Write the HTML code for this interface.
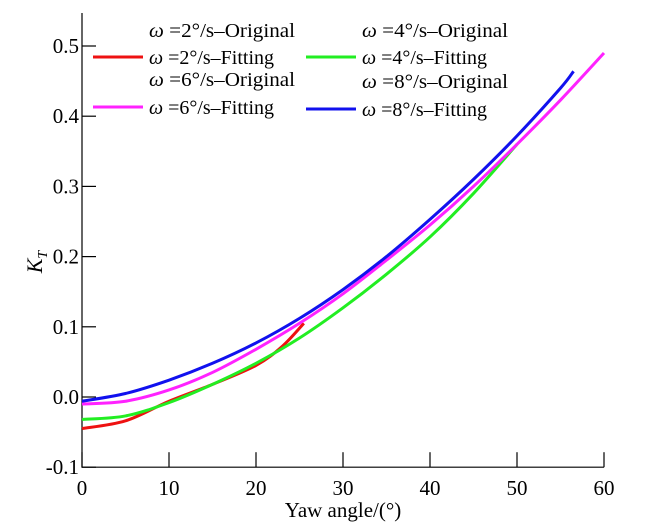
<!DOCTYPE html>
<html><head><meta charset="utf-8"><style>
body{margin:0;background:#fff;}
svg{display:block;font-family:"Liberation Serif",serif;}
</style></head><body>
<svg id="c" width="648" height="524"></svg>
<script>
const angles=[0,5,10,15,20,25,30,35,40,45,50,55,60];
const redX=[0,5,10,15,20,23,25.5];
const red=[-0.045,-0.034,-0.006,0.018,0.045,0.072,0.105];
const greenX=[0,5,10,15,20,25,30,35,40,45,50];
const green=[-0.032,-0.027,-0.008,0.018,0.048,0.084,0.127,0.175,0.228,0.29,0.36];
const magenta=[-0.01,-0.006,0.01,0.035,0.068,0.105,0.147,0.195,0.245,0.3,0.36,0.423,0.49];
const blueX=[0,5,10,15,20,25,30,35,40,45,50,55,56.5];
const blue=[-0.006,0.005,0.024,0.048,0.077,0.112,0.153,0.2,0.253,0.31,0.372,0.44,0.464];
const xTicks=[0,10,20,30,40,50,60];
const yTicks=[-0.1,0.0,0.1,0.2,0.3,0.4,0.5];
const NS="http://www.w3.org/2000/svg";
const svg=document.getElementById('c');
const X=v=>82+v*(604-82)/60;
const Y=v=>397-v*702;
function mk(t,a,p){const e=document.createElementNS(NS,t);for(const k in a)e.setAttribute(k,a[k]);(p||svg).appendChild(e);return e;}
let ax=mk('path',{d:`M${X(0)},13 V${Y(-0.1)} H${X(60)}`,fill:'none',stroke:'#000','stroke-width':1.2});


xTicks.forEach(t=>{
 const l=mk('line',{x1:X(t),x2:X(t),y1:Y(-0.1),y2:Y(-0.1)-15,stroke:'#000','stroke-width':1.2});
 
 
 const tx=mk('text',{x:X(t),y:495,'font-size':21,'text-anchor':'middle'});tx.textContent=t;
 
 
});
yTicks.forEach(t=>{
 const l=mk('line',{x1:X(0),x2:X(0)+14,y1:Y(t),y2:Y(t),stroke:'#000','stroke-width':1.2});
 
 
 const tx=mk('text',{x:X(0)-3,y:Y(t)+7,'font-size':21,'text-anchor':'end'});tx.textContent=t.toFixed(1);
 
 
});
let xt=mk('text',{x:343,y:517,'font-size':21,'text-anchor':'middle'});xt.textContent='Yaw angle/(°)';


let yt=mk('text',{x:0,y:0,'font-size':22,'font-style':'italic',transform:'translate(42,262) rotate(-90)','text-anchor':'middle'});
yt.innerHTML='K<tspan font-size="14" dy="5">T</tspan>';


function series(xs,ys,col,name){
 const pts=ys.map((v,i)=>[X(xs[i]),Y(v)]);
 let d='M'+pts[0];
 for(let i=0;i<pts.length-1;i++){
  const p0=pts[i-1]||pts[i],p1=pts[i],p2=pts[i+1],p3=pts[i+2]||p2;
  d+=` C${p1[0]+(p2[0]-p0[0])/6},${p1[1]+(p2[1]-p0[1])/6} ${p2[0]-(p3[0]-p1[0])/6},${p2[1]-(p3[1]-p1[1])/6} ${p2[0]},${p2[1]}`;
 }
 const p=mk('path',{d,fill:'none',stroke:col,'stroke-width':3});
 
 
}
series(redX,red,'#ee1111','line-2deg-fitting');
series(greenX,green,'#22ee22','line-4deg-fitting');
series(angles,magenta,'#ff22ff','line-6deg-fitting');
series(blueX,blue,'#1111ee','line-8deg-fitting');
const leg=[['2','Original',149,37,null],['4','Original',362,37,null],['2','Fitting',149,64,'#ee1111'],['4','Fitting',362,64,'#22ee22'],
['6','Original',149,86,null],['8','Original',362,88,null],['6','Fitting',149,114,'#ff22ff'],['8','Fitting',362,116,'#1111ee']];
leg.forEach(e=>{
 const g=mk('g',{});
 
 
 if(e[4])mk('line',{x1:e[2]-56,x2:e[2]-6,y1:e[3]-7,y2:e[3]-7,stroke:e[4],'stroke-width':3},g);
 const t=mk('text',{x:e[2],y:e[3],'font-size':20.5,textLength:e[1]=='Original'?146:125,lengthAdjust:'spacingAndGlyphs'},g);
 t.innerHTML='<tspan font-style="italic">ω</tspan> =' + e[0]+'°/s–'+e[1];
});
</script>
</body></html>
